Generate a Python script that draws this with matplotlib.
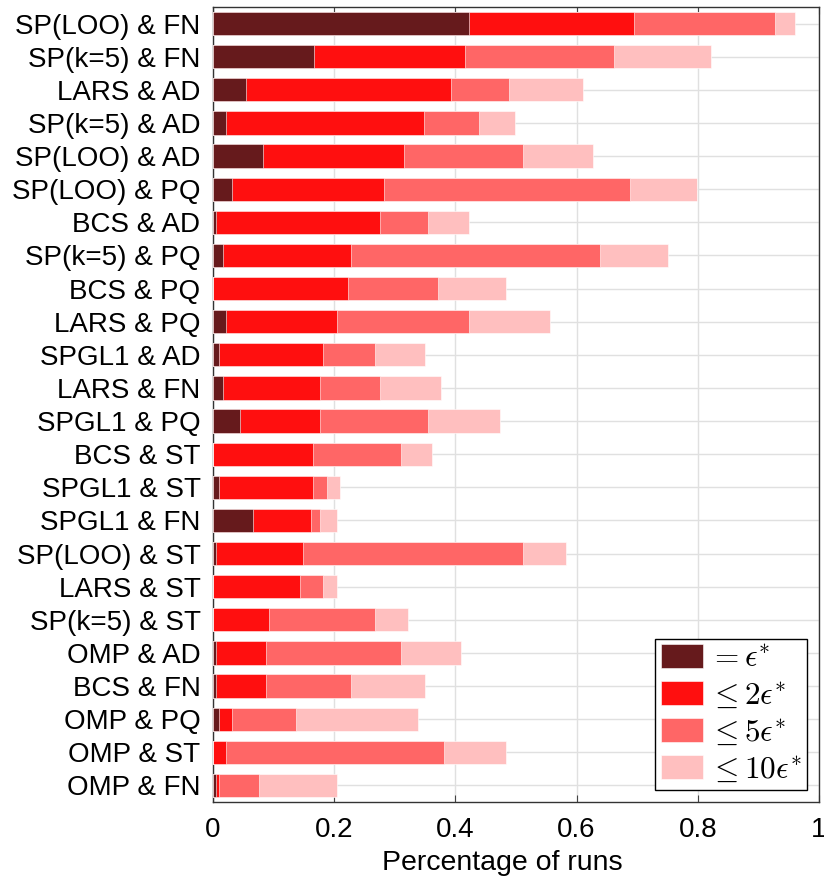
import numpy as np
import matplotlib
matplotlib.use('Agg')
import matplotlib.pyplot as plt
from matplotlib.ticker import FuncFormatter

plt.rcParams['font.family'] = ['Liberation Sans', 'DejaVu Sans']
plt.rcParams['mathtext.fontset'] = 'cm'

# categories, top to bottom
labels = ['SP(LOO) & FN', 'SP(k=5) & FN', 'LARS & AD', 'SP(k=5) & AD', 'SP(LOO) & AD',
          'SP(LOO) & PQ', 'BCS & AD', 'SP(k=5) & PQ', 'BCS & PQ', 'LARS & PQ',
          'SPGL1 & AD', 'LARS & FN', 'SPGL1 & PQ', 'BCS & ST', 'SPGL1 & ST',
          'SPGL1 & FN', 'SP(LOO) & ST', 'LARS & ST', 'SP(k=5) & ST', 'OMP & AD',
          'BCS & FN', 'OMP & PQ', 'OMP & ST', 'OMP & FN']

# cumulative fractions of runs
eq1 = [0.422, 0.166, 0.055, 0.021, 0.082, 0.032, 0.005, 0.016, 0.0, 0.021, 0.010, 0.016,
       0.044, 0.0, 0.010, 0.066, 0.005, 0.0, 0.0, 0.005, 0.005, 0.010, 0.0, 0.005]
le2 = [0.695, 0.416, 0.393, 0.349, 0.316, 0.283, 0.276, 0.227, 0.222, 0.205, 0.182, 0.177,
       0.177, 0.165, 0.165, 0.161, 0.149, 0.144, 0.093, 0.088, 0.088, 0.031, 0.021, 0.010]
le5 = [0.927, 0.661, 0.488, 0.439, 0.511, 0.688, 0.355, 0.639, 0.372, 0.422, 0.267, 0.276,
       0.355, 0.311, 0.188, 0.177, 0.511, 0.182, 0.267, 0.311, 0.227, 0.137, 0.382, 0.076]
le10 = [0.961, 0.822, 0.611, 0.499, 0.627, 0.799, 0.422, 0.750, 0.483, 0.556, 0.350, 0.377,
        0.473, 0.361, 0.210, 0.205, 0.583, 0.205, 0.322, 0.410, 0.350, 0.339, 0.483, 0.205]

series = [le10, le5, le2, eq1]
names = [r'$\leq 10\epsilon^{*}$', r'$\leq 5\epsilon^{*}$', r'$\leq 2\epsilon^{*}$', r'$= \epsilon^{*}$']
colors = ['#ffbfbf', '#ff6666', '#ff0f0f', '#661a1c']

fig = plt.figure(figsize=(8.24, 8.82), dpi=100)
ax = fig.add_axes([213 / 824, 80 / 882, 606 / 824, 795 / 882])

y = np.arange(len(labels))
handles = []
for vals, name, c in zip(series, names, colors):
    h = ax.barh(y, vals, height=0.7, color=c, edgecolor='white', linewidth=0.4,
                label=name, zorder=3)
    handles.append(h)

ax.set_xlim(0, 1)
ax.set_ylim(len(labels) - 0.5, -0.5)
ax.set_yticks(y)
ax.set_yticklabels(labels, fontsize=20)
ax.set_xticks([0, 0.2, 0.4, 0.6, 0.8, 1])
ax.xaxis.set_major_formatter(FuncFormatter(lambda v, p: f'{v:g}'))
ax.tick_params(axis='x', labelsize=20, direction='in', top=True, length=5,
               color='#444444', pad=11)
ax.tick_params(axis='y', direction='in', length=0, pad=9)
ax.set_xlabel('Percentage of runs', fontsize=20.5, labelpad=5)
ax.xaxis.label.set_x(0.477)
ax.grid(True, color='#e0e0e0', linewidth=1, zorder=0)
ax.set_axisbelow(True)
for s in ax.spines.values():
    s.set_color('#333333')
    s.set_linewidth(1)

leg = ax.legend(handles[::-1], names[::-1], loc='lower right', fontsize=22.5,
                fancybox=False, framealpha=1, edgecolor='black',
                handlelength=1.35, handleheight=0.8, labelspacing=0.22,
                borderpad=0.18, handletextpad=0.2, borderaxespad=0.37)
leg.get_frame().set_linewidth(1)

fig.savefig('out.png', dpi=100)
